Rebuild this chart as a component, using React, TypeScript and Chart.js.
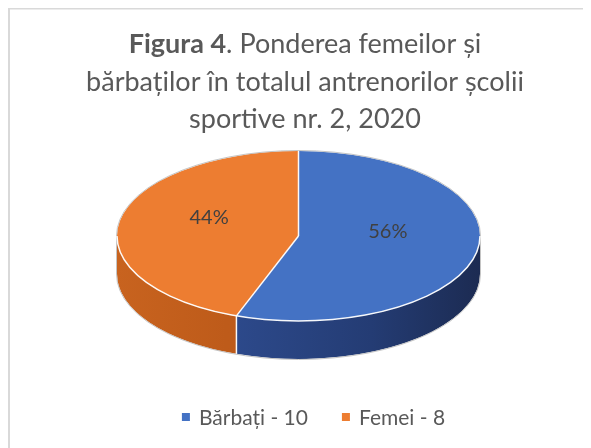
import React, { useEffect, useRef } from "react";
import { Chart, registerables } from "chart.js";

Chart.register(...registerables);

// ---- data ----
const categories = ["Bărbați", "Femei"];
const values = [10, 8];
const titleBold = "Figura 4";
const titleRest = ". Ponderea femeilor și";
const titleLines = ["bărbaților în totalul antrenorilor școlii", "sportive nr. 2, 2020"];

// ---- style ----
const topColors = ["#4472C4", "#ED7D31"];
const FONT = "Lato, 'Open Sans', sans-serif";
const TEXT_COLOR = "#595959";
const STRETCH = 181.5 / 85; // horizontal stretch of the tilted pie
const DEPTH = 38; // thickness of the 3D side

const W = 583;
const H = 440;

const framePlugin = {
  id: "frame",
  beforeDraw(chart: any) {
    const ctx = chart.ctx as CanvasRenderingContext2D;
    ctx.save();
    ctx.fillStyle = "#d9d9d9";
    ctx.fillRect(0, 0, chart.width, 1.5);
    ctx.fillRect(0, 0, 2, chart.height);
    ctx.restore();
  },
};

let transformed = false;

const pie3dPlugin = {
  id: "pie3d",
  beforeDatasetsDraw(chart: any) {
    const ctx = chart.ctx as CanvasRenderingContext2D;
    const arcs = chart.getDatasetMeta(0).data as any[];
    transformed = false;
    if (!arcs.length) return;
    const { x: cx, y: cy, outerRadius: r } = arcs[0];
    const rx = r * STRETCH;

    // side walls (front half only: angles 0..PI)
    arcs.forEach((arc: any, i: number) => {
      for (const k of [-2 * Math.PI, 0, 2 * Math.PI]) {
        const s = Math.max(arc.startAngle + k, 0);
        const e = Math.min(arc.endAngle + k, Math.PI);
        if (e <= s) continue;
        ctx.save();
        ctx.beginPath();
        ctx.ellipse(cx, cy, rx, r, 0, s, e, false);
        ctx.lineTo(cx + rx * Math.cos(e), cy + DEPTH + r * Math.sin(e));
        ctx.ellipse(cx, cy + DEPTH, rx, r, 0, e, s, true);
        ctx.closePath();
        const g = ctx.createLinearGradient(cx - rx, 0, cx + rx, 0);
        if (i === 0) {
          g.addColorStop(0, "#2F4D90");
          g.addColorStop(0.3, "#2D4A8C");
          g.addColorStop(0.7, "#243C74");
          g.addColorStop(1, "#1C2B52");
        } else {
          g.addColorStop(0, "#C8631F");
          g.addColorStop(0.3, "#BE5B1A");
          g.addColorStop(1, "#B5561A");
        }
        ctx.fillStyle = g;
        ctx.fill();
        ctx.restore();
      }
    });

    ctx.save();
    ctx.translate(cx, cy);
    ctx.scale(STRETCH, 1);
    ctx.translate(-cx, -cy);
    transformed = true;
  },
  afterDatasetsDraw(chart: any) {
    const ctx = chart.ctx as CanvasRenderingContext2D;
    if (transformed) ctx.restore();
    transformed = false;
    const arcs = chart.getDatasetMeta(0).data as any[];
    if (!arcs.length) return;
    const { x: cx, y: cy, outerRadius: r } = arcs[0];
    const rx = r * STRETCH;

    ctx.save();
    // outer silhouette
    ctx.strokeStyle = "rgba(190,190,190,0.9)";
    ctx.lineWidth = 1;
    ctx.beginPath();
    ctx.ellipse(cx, cy, rx + 0.5, r + 0.5, 0, Math.PI, 2 * Math.PI, false);
    ctx.lineTo(cx + rx + 0.5, cy + DEPTH);
    ctx.ellipse(cx, cy + DEPTH, rx + 0.5, r + 0.5, 0, 0, Math.PI, false);
    ctx.closePath();
    ctx.stroke();

    // white rim on front edge of the top face
    ctx.strokeStyle = "rgba(255,255,255,0.95)";
    ctx.lineWidth = 1.5;
    ctx.beginPath();
    ctx.ellipse(cx, cy, rx, r, 0, 0, Math.PI, false);
    ctx.stroke();

    // slice dividers
    arcs.forEach((arc: any) => {
      const a = arc.startAngle;
      const px = cx + rx * Math.cos(a);
      const py = cy + r * Math.sin(a);
      ctx.beginPath();
      ctx.moveTo(cx, cy);
      ctx.lineTo(px, py);
      ctx.stroke();
      const na = ((a % (2 * Math.PI)) + 2 * Math.PI) % (2 * Math.PI);
      if (na > 0.01 && na < Math.PI - 0.01) {
        ctx.beginPath();
        ctx.moveTo(px, py);
        ctx.lineTo(px, py + DEPTH);
        ctx.stroke();
      }
    });

    // percentage labels
    const total = values.reduce((s, v) => s + v, 0);
    ctx.fillStyle = "#404040";
    ctx.font = `20px ${FONT}`;
    ctx.textAlign = "center";
    ctx.textBaseline = "middle";
    arcs.forEach((arc: any, i: number) => {
      const mid = (arc.startAngle + arc.endAngle) / 2;
      const lx = cx + 0.5 * rx * Math.cos(mid);
      const ly = cy + 0.5 * r * Math.sin(mid) - 11.5;
      ctx.fillText(`${Math.round((values[i] / total) * 100)}%`, lx, ly);
    });
    ctx.restore();
  },
};

const titlePlugin = {
  id: "customTitle",
  afterDraw(chart: any) {
    const ctx = chart.ctx as CanvasRenderingContext2D;
    const centerX = 297;
    const baselines = [45, 83, 120];
    ctx.save();
    ctx.fillStyle = TEXT_COLOR;
    ctx.textBaseline = "alphabetic";
    ctx.textAlign = "left";
    const bold = `bold 27px ${FONT}`;
    const normal = `27px ${FONT}`;
    ctx.font = bold;
    const wb = ctx.measureText(titleBold).width;
    ctx.font = normal;
    const wr = ctx.measureText(titleRest).width;
    const x = centerX - (wb + wr) / 2;
    ctx.font = bold;
    ctx.fillText(titleBold, x, baselines[0]);
    ctx.font = normal;
    ctx.fillText(titleRest, x + wb, baselines[0]);
    ctx.textAlign = "center";
    titleLines.forEach((t, i) => ctx.fillText(t, centerX, baselines[i + 1]));
    ctx.restore();
  },
};

const legendPlugin = {
  id: "customLegend",
  afterDraw(chart: any) {
    const ctx = chart.ctx as CanvasRenderingContext2D;
    const centerX = 305.5;
    const rowY = 409;
    const box = 8;
    const textGap = 9;
    const itemGap = 34;
    ctx.save();
    ctx.font = `21px ${FONT}`;
    ctx.textBaseline = "middle";
    ctx.textAlign = "left";
    const texts = categories.map((c, i) => `${c} - ${values[i]}`);
    const widths = texts.map((t) => box + textGap + ctx.measureText(t).width);
    const total = widths.reduce((s, w) => s + w, 0) + itemGap * (texts.length - 1);
    let x = centerX - total / 2;
    texts.forEach((t, i) => {
      ctx.fillStyle = topColors[i];
      ctx.fillRect(x, rowY - box / 2, box, box);
      ctx.fillStyle = TEXT_COLOR;
      ctx.fillText(t, x + box + textGap, rowY + 1);
      x += widths[i] + itemGap;
    });
    ctx.restore();
  },
};

export default function App() {
  const ref = useRef<HTMLCanvasElement | null>(null);
  useEffect(() => {
    if (!ref.current) return;
    const chart = new Chart(ref.current, {
      type: "pie",
      data: {
        labels: categories.map((c, i) => `${c} - ${values[i]}`),
        datasets: [
          {
            data: values,
            backgroundColor: topColors,
            borderWidth: 0,
            hoverOffset: 0,
            radius: 85,
            clip: false,
          } as any,
        ],
      },
      options: {
        responsive: false,
        animation: false,
        events: [],
        layout: { padding: { top: 16, bottom: 0, left: 0, right: 2 } },
        plugins: {
          legend: { display: false },
          tooltip: { enabled: false },
          title: { display: false },
        },
      },
      plugins: [framePlugin, pie3dPlugin, titlePlugin, legendPlugin],
    });
    return () => chart.destroy();
  }, []);
  return (
    <div style={{ width: W, height: H }}>
      <canvas ref={ref} width={W} height={H} style={{ display: "block" }} />
    </div>
  );
}
